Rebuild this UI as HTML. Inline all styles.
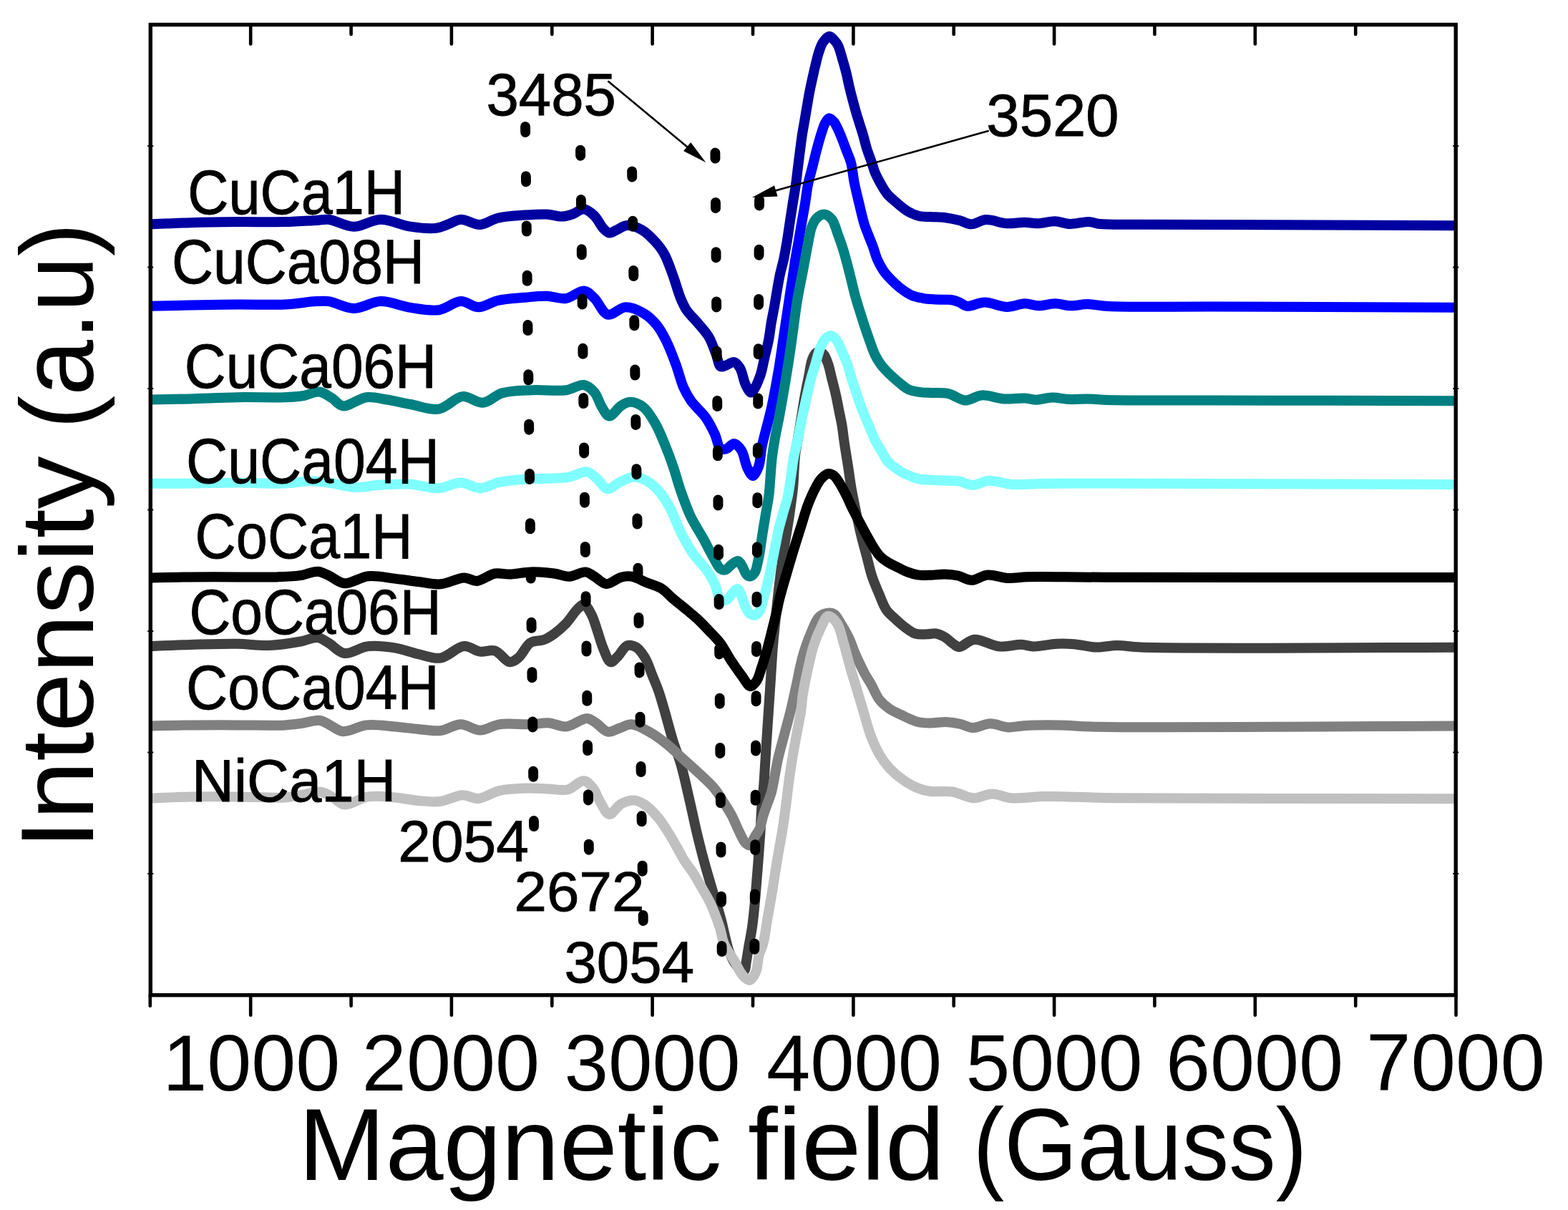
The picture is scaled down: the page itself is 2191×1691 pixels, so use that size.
<!DOCTYPE html>
<html><head><meta charset="utf-8"><title>EPR spectra - Magnetic field vs Intensity</title><style>html,body{margin:0;padding:0;background:#fff;overflow:hidden}svg{display:block}</style></head><body>
<svg width="2191" height="1691" viewBox="0 0 2191 1691">
<rect width="2191" height="1691" fill="#fff"/>
<defs><clipPath id="pc"><rect x="210.3" y="34.5" width="1823.9" height="1356.2"/></clipPath></defs>
<g clip-path="url(#pc)" fill="none" stroke-width="14" stroke-linejoin="round" stroke-linecap="butt">
<path d="M211.0,903.1 C220.2,902.7 246.8,901.4 265.9,900.9 C286.9,900.3 312.1,899.5 331.9,899.8 C348.0,900.1 361.2,902.5 375.8,902.0 C390.5,901.5 407.4,898.7 419.8,896.5 C429.1,894.9 437.0,890.1 444.0,891.0 C449.8,891.7 453.8,895.6 459.3,898.7 C466.1,902.6 472.9,911.8 481.3,913.0 C490.9,914.4 502.8,904.4 514.3,903.1 C526.2,901.7 539.6,903.4 551.6,905.3 C563.0,907.1 573.7,911.7 584.6,914.1 C595.0,916.4 605.2,921.1 615.4,919.6 C626.5,918.0 638.3,903.8 648.4,903.1 C656.5,902.5 663.4,909.6 670.8,910.6 C677.7,911.5 684.9,907.5 691.5,909.5 C698.9,911.7 706.1,924.5 712.3,925.1 C716.8,925.5 720.6,922.2 724.7,918.9 C730.3,914.3 734.8,902.2 741.3,898.1 C746.8,894.7 754.3,896.2 760.0,894.0 C765.3,892.0 769.7,889.1 774.5,885.7 C780.0,881.7 785.8,876.6 791.1,871.1 C796.9,865.0 802.8,854.8 807.7,850.4 C810.7,847.7 813.3,844.5 816.0,845.0 C819.6,845.6 823.5,853.3 826.4,858.7 C829.9,865.1 832.0,873.7 834.7,881.5 C837.5,889.6 839.7,898.8 843.0,906.4 C846.0,913.2 849.4,924.3 853.4,925.1 C856.5,925.7 860.3,920.1 863.8,916.8 C867.9,912.8 871.5,904.0 876.2,902.3 C880.0,900.9 884.9,902.2 888.7,904.3 C893.4,906.9 897.5,913.1 901.1,918.9 C905.3,925.8 908.3,935.9 911.5,943.8 C914.4,951.0 917.2,957.1 919.8,964.5 C922.8,972.8 925.1,981.4 928.1,991.5 C931.8,1004.2 936.0,1021.1 940.2,1034.7 C944.0,1046.9 948.2,1056.7 951.8,1069.4 C956.1,1084.6 960.2,1104.1 963.9,1120.0 C967.2,1134.2 969.7,1146.9 972.9,1160.3 C976.1,1173.8 979.4,1187.2 983.0,1200.6 C986.6,1214.1 990.9,1228.5 994.6,1241.0 C997.8,1251.8 1001.2,1262.5 1003.7,1271.2 C1005.6,1277.8 1006.9,1282.3 1008.5,1288.5 C1010.3,1295.6 1012.0,1304.3 1013.9,1311.7 C1015.6,1318.4 1016.8,1324.8 1019.3,1331.0 C1021.8,1337.3 1025.6,1344.8 1029.0,1349.0 C1031.3,1351.8 1033.8,1353.9 1036.0,1355.0 C1037.6,1355.8 1039.4,1356.7 1040.5,1356.0 C1042.1,1355.0 1041.7,1350.2 1042.4,1346.4 C1043.4,1341.1 1044.3,1334.3 1045.5,1327.1 C1047.0,1318.0 1049.4,1306.6 1050.9,1296.3 C1052.4,1286.0 1053.3,1276.1 1054.4,1265.4 C1055.5,1254.0 1056.5,1241.5 1057.4,1230.0 C1058.3,1219.1 1059.1,1209.0 1059.9,1198.0 C1060.8,1186.4 1061.7,1174.1 1062.5,1162.0 C1063.3,1149.8 1063.6,1136.1 1064.5,1125.0 C1065.2,1115.8 1066.2,1110.1 1067.0,1100.0 C1068.3,1084.4 1069.6,1059.1 1070.8,1040.5 C1071.9,1024.1 1072.9,1009.6 1073.9,994.2 C1074.9,978.8 1076.0,963.4 1077.0,948.0 C1078.0,932.6 1078.8,917.1 1080.1,901.7 C1081.4,886.3 1083.2,869.8 1084.7,855.4 C1086.0,842.8 1087.0,832.8 1088.5,820.0 C1090.3,804.8 1092.7,785.7 1095.0,770.0 C1097.1,755.9 1099.4,744.0 1101.5,730.0 C1103.8,714.7 1106.4,697.9 1108.0,682.0 C1109.6,666.3 1109.6,648.2 1111.2,635.0 C1112.4,625.3 1114.1,618.3 1115.5,609.8 C1117.0,601.1 1118.3,592.5 1119.8,583.2 C1121.5,573.0 1123.2,561.3 1125.1,551.1 C1126.8,541.8 1128.7,532.8 1130.4,524.4 C1131.9,516.9 1132.6,508.6 1134.7,503.0 C1136.2,499.1 1137.7,495.4 1140.0,493.5 C1141.7,492.1 1144.1,491.2 1146.0,491.5 C1148.0,491.9 1149.9,493.9 1151.5,496.0 C1153.8,498.9 1155.4,503.6 1157.1,508.4 C1159.2,514.5 1160.7,522.7 1162.5,529.8 C1164.3,536.9 1166.2,544.0 1167.8,551.1 C1169.4,558.2 1170.7,565.4 1172.1,572.5 C1173.5,579.6 1175.1,586.3 1176.4,593.8 C1177.8,602.1 1178.6,610.8 1180.0,620.0 C1181.5,630.1 1183.4,641.3 1185.1,652.0 C1186.7,662.7 1188.0,673.3 1189.9,684.0 C1191.8,694.7 1194.1,705.4 1196.3,716.1 C1198.5,726.8 1200.7,737.5 1203.3,748.2 C1205.9,758.9 1209.2,770.2 1211.8,780.2 C1214.1,789.0 1215.6,796.7 1218.3,804.9 C1221.1,813.3 1224.7,821.7 1228.2,829.8 C1231.6,837.7 1234.8,847.1 1239.0,853.1 C1242.2,857.7 1245.9,860.3 1249.8,863.9 C1253.9,867.8 1258.3,871.9 1263.1,875.5 C1268.0,879.2 1273.3,883.7 1278.9,885.5 C1284.2,887.2 1290.4,886.3 1295.5,886.3 C1300.0,886.3 1303.9,884.8 1308.0,885.5 C1312.2,886.2 1316.4,888.2 1320.4,890.5 C1324.7,893.0 1329.1,898.0 1332.9,900.4 C1335.7,902.2 1337.4,904.2 1340.6,904.2 C1345.8,904.2 1353.3,894.6 1361.3,893.8 C1371.3,892.8 1385.1,902.5 1396.5,903.5 C1407.0,904.5 1418.7,900.5 1427.3,900.8 C1433.6,901.0 1437.3,903.3 1443.7,903.5 C1452.8,903.7 1466.5,900.2 1476.7,899.7 C1485.4,899.3 1492.4,899.5 1500.9,900.2 C1510.5,901.0 1521.4,904.3 1531.6,904.6 C1541.6,904.9 1551.1,901.9 1561.3,901.9 C1572.0,901.9 1577.0,903.9 1594.3,904.6 C1657.4,907.2 1961.6,904.7 2035.0,904.7" stroke="#404040"/>
<path d="M211.0,313.4 C220.2,313.0 246.8,311.7 265.9,311.2 C286.9,310.6 309.9,310.3 331.9,310.1 C353.9,309.9 378.0,310.6 397.8,310.1 C413.9,309.7 430.5,308.5 441.8,307.9 C449.0,307.5 452.5,306.1 459.3,306.8 C469.1,307.8 482.6,316.6 494.5,316.7 C506.8,316.8 519.1,307.0 531.9,306.8 C545.4,306.6 560.2,314.7 573.6,316.7 C585.7,318.5 599.2,320.1 608.8,318.9 C615.8,318.1 620.6,315.4 626.4,313.4 C632.3,311.4 637.5,307.1 644.0,306.8 C651.9,306.4 662.1,314.4 670.8,314.0 C679.3,313.6 686.4,306.9 695.7,304.7 C706.7,302.1 721.1,301.5 733.0,300.6 C743.8,299.8 754.7,299.0 764.0,299.5 C771.7,299.9 778.7,302.8 785.0,302.6 C790.3,302.4 794.5,301.1 799.4,299.5 C804.8,297.8 810.7,291.9 816.0,292.3 C821.1,292.7 826.3,297.5 830.6,301.6 C835.4,306.2 839.0,315.0 843.0,319.2 C845.8,322.1 848.3,325.1 851.3,325.5 C854.5,325.9 858.0,322.9 861.7,321.3 C866.1,319.4 870.9,315.3 876.2,315.0 C882.4,314.6 890.6,317.7 897.0,321.3 C903.9,325.1 910.4,332.1 915.7,337.9 C920.5,343.2 924.3,347.8 928.0,354.5 C932.8,363.0 936.7,375.2 940.6,385.7 C944.4,396.0 947.4,408.2 951.0,416.8 C953.7,423.3 955.7,428.1 959.3,433.4 C963.2,439.2 968.9,444.1 973.8,450.0 C979.2,456.5 985.9,463.2 990.4,470.8 C994.9,478.4 997.8,488.2 1000.8,495.7 C1003.2,501.8 1003.8,510.6 1007.0,512.3 C1009.2,513.5 1012.4,511.1 1015.3,510.2 C1018.6,509.1 1022.6,505.4 1025.7,506.0 C1028.9,506.6 1031.6,510.5 1034.0,514.3 C1037.5,519.9 1038.9,531.9 1042.0,538.0 C1044.3,542.4 1047.1,548.4 1049.5,548.5 C1051.6,548.6 1053.8,543.8 1055.5,541.0 C1057.3,538.0 1058.7,534.2 1060.0,531.0 C1061.2,528.0 1062.1,526.0 1063.2,522.3 C1065.0,516.4 1066.8,506.5 1068.6,498.6 C1070.4,490.7 1072.6,482.8 1074.1,474.9 C1075.6,467.0 1076.4,459.1 1077.7,451.2 C1079.1,443.3 1080.8,435.4 1082.2,427.4 C1083.6,419.3 1085.0,410.6 1086.3,403.0 C1087.5,396.3 1088.4,390.5 1089.8,384.0 C1091.3,377.1 1093.4,370.2 1095.0,362.7 C1096.8,354.5 1098.3,345.3 1099.8,336.6 C1101.2,327.9 1102.4,319.2 1103.7,310.5 C1105.0,301.8 1106.3,293.1 1107.7,284.4 C1109.1,275.7 1110.7,267.0 1112.0,258.3 C1113.2,249.6 1114.1,240.9 1115.2,232.2 C1116.3,223.5 1117.4,214.1 1118.5,206.1 C1119.4,199.2 1120.1,193.3 1121.1,187.0 C1122.1,180.6 1123.3,174.3 1124.4,168.0 C1125.5,161.7 1126.5,155.3 1127.6,149.0 C1128.7,142.7 1129.7,136.3 1130.9,130.0 C1132.1,123.7 1133.5,117.3 1134.9,111.0 C1136.3,104.7 1137.7,98.3 1139.2,92.0 C1140.8,85.7 1142.2,78.8 1144.2,73.0 C1145.9,67.9 1147.3,62.8 1150.0,59.0 C1152.4,55.6 1156.1,50.8 1158.9,50.7 C1161.4,50.6 1164.0,54.3 1166.0,56.5 C1168.0,58.6 1169.5,60.4 1171.0,63.5 C1173.3,68.2 1175.2,76.1 1177.1,82.5 C1179.0,88.8 1180.8,95.1 1182.4,101.5 C1184.0,107.8 1185.1,114.2 1186.6,120.5 C1188.1,126.8 1189.7,133.2 1191.4,139.5 C1193.1,145.8 1194.9,152.6 1196.6,158.5 C1198.1,163.7 1199.6,168.0 1201.1,173.0 C1202.7,178.2 1204.5,183.4 1206.1,189.0 C1207.9,195.0 1209.3,201.7 1211.3,208.0 C1213.3,214.4 1216.0,221.1 1218.0,227.0 C1219.7,232.1 1220.8,236.5 1222.7,241.2 C1224.7,246.0 1227.2,250.7 1229.9,255.5 C1232.8,260.7 1235.9,266.5 1239.8,271.1 C1243.5,275.6 1248.1,279.1 1252.6,283.0 C1257.4,287.1 1262.4,291.7 1267.8,294.9 C1273.0,298.0 1278.9,300.7 1284.5,302.0 C1289.7,303.2 1294.5,302.7 1300.0,303.0 C1306.2,303.4 1313.1,303.2 1319.8,304.0 C1326.7,304.8 1334.1,306.4 1340.6,308.1 C1346.5,309.6 1351.4,313.3 1357.2,313.3 C1363.7,313.3 1370.4,307.5 1377.9,307.1 C1386.7,306.6 1397.6,311.8 1407.0,312.3 C1415.6,312.8 1424.3,310.7 1431.9,310.8 C1438.3,310.9 1443.1,312.3 1449.5,312.2 C1457.1,312.1 1466.5,309.1 1474.4,309.3 C1481.6,309.5 1487.6,312.8 1494.9,313.0 C1503.1,313.3 1513.5,309.7 1521.2,310.0 C1527.3,310.2 1530.3,312.3 1537.4,313.0 C1551.0,314.3 1574.7,313.5 1597.4,313.7 C1627.0,313.9 1662.6,313.9 1700.0,314.0 C1745.3,314.1 1797.4,314.3 1850.0,314.5 C1908.4,314.7 2004.2,315.1 2035.0,315.2" stroke="#0000A0"/>
<path d="M211.0,427.7 C220.2,427.5 246.8,427.0 265.9,426.6 C286.9,426.2 309.9,425.7 331.9,425.5 C353.9,425.3 378.1,426.5 397.8,425.5 C414.0,424.7 430.4,421.7 441.8,421.1 C448.9,420.7 452.5,420.2 459.3,421.1 C469.1,422.4 482.6,430.9 494.5,431.0 C506.8,431.1 519.1,421.4 531.9,421.1 C545.4,420.8 559.8,427.9 573.6,429.9 C586.9,431.9 601.0,435.0 613.2,433.2 C624.3,431.6 634.3,421.4 644.0,421.1 C652.6,420.9 660.3,429.3 668.7,429.3 C677.5,429.3 685.8,422.2 695.7,420.0 C707.0,417.4 721.1,416.9 733.0,415.8 C743.8,414.8 754.0,413.4 764.0,413.7 C773.3,414.0 782.3,418.2 791.0,417.0 C799.7,415.8 809.0,405.6 816.0,406.4 C821.7,407.0 825.7,412.3 830.6,416.8 C836.8,422.6 841.8,437.7 849.3,439.6 C856.5,441.4 865.9,429.6 874.2,429.3 C882.4,429.0 891.7,433.4 899.0,437.6 C906.1,441.7 912.5,447.9 917.7,454.2 C922.8,460.4 926.2,466.9 930.2,474.9 C935.3,484.9 940.5,498.7 944.7,510.2 C948.6,520.8 951.1,532.4 955.0,541.3 C958.2,548.5 961.0,553.6 965.5,560.0 C970.9,567.7 980.5,575.5 986.2,583.6 C991.4,591.0 995.1,598.9 998.7,606.4 C1002.0,613.4 1003.1,624.6 1007.0,627.2 C1009.4,628.8 1012.5,628.1 1015.3,627.2 C1018.7,626.1 1022.3,619.7 1025.7,619.9 C1029.2,620.1 1033.2,624.9 1036.0,629.2 C1039.9,635.2 1041.1,647.8 1044.4,654.2 C1046.7,658.8 1049.5,665.1 1052.0,665.0 C1054.7,664.9 1058.0,657.4 1060.0,652.0 C1062.8,644.6 1062.5,634.5 1064.7,623.6 C1067.8,608.5 1074.1,587.7 1078.0,569.8 C1081.8,552.1 1085.0,534.6 1088.0,516.9 C1091.0,499.2 1093.3,481.3 1096.0,463.5 C1098.7,445.7 1101.9,423.9 1104.0,410.1 C1105.3,401.4 1106.2,396.3 1107.4,388.8 C1108.7,380.5 1109.9,371.4 1111.3,362.7 C1112.7,354.0 1114.4,345.3 1115.9,336.6 C1117.4,327.9 1118.9,319.2 1120.4,310.5 C1121.9,301.8 1123.6,293.1 1125.0,284.4 C1126.4,275.7 1127.2,267.0 1128.9,258.3 C1130.7,249.6 1133.3,240.9 1135.5,232.2 C1137.7,223.5 1139.7,214.4 1142.0,206.1 C1144.1,198.4 1146.4,190.2 1148.5,184.0 C1150.0,179.4 1151.1,175.3 1153.0,172.0 C1154.6,169.3 1156.5,165.5 1158.6,165.3 C1160.6,165.1 1163.1,167.9 1165.0,170.0 C1167.2,172.4 1168.6,175.8 1170.4,179.4 C1172.6,183.9 1174.9,189.7 1177.0,195.0 C1179.1,200.3 1181.0,205.7 1183.0,211.0 C1185.0,216.3 1187.3,220.8 1189.0,227.0 C1191.2,235.1 1191.9,246.0 1193.8,255.5 C1195.7,265.0 1198.1,274.5 1200.4,284.0 C1202.7,293.5 1204.9,304.2 1207.5,312.5 C1209.5,319.1 1211.9,324.4 1214.0,330.0 C1216.0,335.2 1218.0,339.7 1219.9,344.9 C1222.0,350.5 1223.4,357.1 1225.9,362.7 C1228.3,368.2 1231.3,373.7 1234.5,378.4 C1237.4,382.7 1240.5,386.0 1244.1,389.8 C1248.1,394.0 1252.7,398.4 1257.6,402.2 C1262.6,406.0 1268.1,410.1 1273.6,412.6 C1278.8,414.9 1284.4,415.8 1289.6,416.8 C1294.5,417.7 1299.2,418.0 1304.0,418.3 C1308.7,418.6 1313.6,418.7 1318.0,418.8 C1321.9,418.9 1325.4,418.4 1329.0,419.0 C1332.7,419.6 1336.4,420.8 1340.0,422.2 C1343.7,423.7 1346.5,427.2 1351.0,427.8 C1357.5,428.7 1367.1,422.6 1375.9,422.6 C1385.7,422.6 1397.2,428.8 1407.0,428.9 C1415.8,429.0 1424.2,424.4 1431.9,424.3 C1438.7,424.2 1444.2,427.2 1450.9,427.3 C1458.3,427.4 1466.7,424.3 1474.4,424.3 C1481.8,424.3 1488.9,427.1 1496.3,427.3 C1504.0,427.5 1511.5,425.1 1519.8,425.1 C1529.0,425.1 1535.5,427.3 1549.1,428.0 C1579.8,429.6 1639.8,428.3 1700.0,428.5 C1789.7,428.8 1979.2,429.5 2035.0,429.7" stroke="#0000FF"/>
<path d="M211.0,558.5 C220.2,558.3 246.8,557.9 265.9,557.4 C286.9,556.8 309.9,555.6 331.9,555.2 C353.9,554.8 380.8,555.9 397.8,555.2 C408.6,554.8 415.9,554.4 424.2,553.0 C431.9,551.7 439.4,546.7 446.2,547.5 C452.5,548.2 458.2,553.0 463.7,556.3 C469.1,559.6 472.7,566.4 479.1,567.3 C487.8,568.5 501.3,556.5 512.1,555.2 C521.8,554.0 530.9,557.0 540.7,558.5 C551.3,560.2 562.1,562.9 573.6,565.0 C586.2,567.3 600.9,573.6 613.2,571.6 C625.1,569.7 635.4,555.1 646.2,554.1 C655.9,553.2 665.6,563.6 674.9,562.8 C684.2,562.0 691.6,552.3 701.9,549.3 C714.0,545.8 729.1,545.9 743.4,545.2 C758.7,544.4 777.9,547.1 791.1,545.2 C800.9,543.8 809.0,536.8 816.0,538.0 C821.8,539.0 826.6,543.6 830.6,548.3 C835.2,553.6 837.2,563.1 841.0,569.0 C844.2,573.9 847.3,581.2 851.3,581.5 C856.0,581.9 862.5,570.4 867.9,567.0 C872.1,564.4 875.8,561.9 880.4,561.8 C886.0,561.7 893.5,564.8 899.0,569.0 C905.6,574.0 910.9,583.7 915.7,591.9 C920.6,600.3 924.1,609.4 928.1,618.9 C932.4,629.3 936.8,641.0 940.6,652.1 C944.4,663.1 947.0,674.0 951.0,685.3 C955.3,697.4 960.0,711.1 965.5,722.6 C970.5,733.1 976.8,742.1 982.1,751.7 C987.2,760.8 992.1,770.9 996.6,778.7 C1000.1,784.8 1003.0,792.2 1006.6,794.8 C1008.8,796.4 1011.0,797.0 1013.3,796.5 C1016.5,795.8 1019.9,790.4 1023.2,788.2 C1026.0,786.4 1029.2,783.5 1031.5,784.0 C1033.9,784.5 1035.5,788.6 1037.3,791.5 C1039.4,794.9 1040.9,800.8 1043.2,803.1 C1044.7,804.6 1046.4,805.8 1048.1,805.6 C1050.2,805.3 1053.1,802.5 1054.8,799.8 C1057.0,796.3 1057.8,790.3 1058.9,785.7 C1059.9,781.4 1060.6,777.7 1061.4,773.2 C1062.3,768.1 1063.1,762.1 1063.9,756.6 C1064.7,751.1 1065.4,746.0 1066.4,740.0 C1067.6,732.7 1069.1,724.0 1070.4,716.0 C1071.7,708.0 1073.2,701.7 1074.4,692.2 C1076.1,678.2 1077.0,654.7 1078.7,640.0 C1080.0,629.2 1081.3,621.6 1083.0,612.0 C1084.8,601.7 1087.1,591.9 1089.3,580.0 C1092.0,565.2 1095.3,546.2 1098.0,530.0 C1100.5,514.6 1102.6,501.4 1105.0,485.0 C1107.9,465.3 1110.8,439.6 1114.0,420.0 C1116.7,403.6 1120.0,388.9 1122.6,375.0 C1124.9,363.0 1126.8,351.7 1128.9,341.3 C1130.7,332.4 1131.8,323.1 1134.5,316.4 C1136.5,311.4 1138.8,306.9 1142.0,304.0 C1144.7,301.5 1148.4,299.2 1151.6,299.4 C1155.1,299.6 1159.3,302.8 1162.3,306.4 C1166.3,311.2 1168.2,320.6 1170.9,327.7 C1173.6,334.8 1176.1,341.9 1178.3,349.1 C1180.5,356.2 1182.3,363.3 1184.2,370.4 C1186.1,377.5 1187.8,384.7 1189.6,391.8 C1191.4,398.9 1193.0,406.1 1194.9,413.2 C1196.9,420.3 1199.1,427.4 1201.3,434.5 C1203.5,441.6 1205.9,449.1 1208.2,455.9 C1210.2,462.0 1212.0,467.2 1214.2,473.4 C1216.7,480.4 1219.3,489.0 1222.5,495.6 C1225.3,501.3 1228.2,506.0 1231.8,510.7 C1235.5,515.5 1240.0,519.9 1244.3,524.1 C1248.6,528.2 1253.1,532.2 1257.6,535.7 C1261.8,539.0 1265.4,542.5 1270.1,544.6 C1274.9,546.7 1280.8,547.4 1286.1,548.1 C1291.2,548.8 1295.5,548.7 1301.2,549.0 C1308.4,549.4 1318.0,548.5 1326.0,550.3 C1333.9,552.1 1341.2,559.3 1348.9,559.6 C1356.5,559.9 1363.4,553.0 1371.7,552.4 C1381.1,551.7 1392.4,556.7 1402.6,557.4 C1412.5,558.1 1423.6,556.1 1431.9,556.6 C1438.1,556.9 1442.2,558.8 1448.0,558.8 C1454.8,558.8 1462.4,555.7 1470.0,555.5 C1478.0,555.3 1486.6,557.8 1494.9,558.1 C1503.2,558.4 1511.8,557.3 1519.8,557.4 C1527.4,557.5 1532.9,558.4 1541.8,558.8 C1555.3,559.3 1572.8,559.5 1593.0,559.6 C1622.2,559.8 1654.4,559.5 1700.0,559.5 C1780.6,559.5 1979.2,560.1 2035.0,560.2" stroke="#008080"/>
<path d="M211.0,675.6 C220.1,675.6 246.8,675.8 265.9,675.6 C286.9,675.4 309.9,674.5 331.9,674.5 C353.9,674.5 379.3,676.3 397.8,675.6 C411.4,675.1 422.1,672.4 433.0,672.3 C442.4,672.3 449.8,673.3 459.3,674.5 C470.7,676.0 484.6,680.6 496.7,681.1 C508.0,681.5 517.9,678.5 529.7,677.8 C543.3,677.0 559.4,675.9 573.6,676.7 C587.2,677.5 600.9,682.9 613.2,682.2 C624.2,681.6 634.1,674.3 644.0,674.5 C653.3,674.7 661.9,682.3 670.8,682.2 C679.8,682.1 688.0,676.0 697.7,673.9 C708.6,671.6 721.6,670.6 733.0,669.7 C743.7,668.9 753.8,669.2 764.2,668.7 C774.6,668.2 785.6,668.3 795.3,666.6 C804.2,665.0 813.5,658.3 820.2,659.3 C825.3,660.1 828.3,664.2 832.6,667.6 C837.9,671.8 843.5,682.5 849.3,683.2 C854.6,683.8 860.1,676.6 865.9,673.9 C871.8,671.1 878.6,667.1 884.5,666.6 C889.6,666.2 894.0,667.4 899.0,669.7 C905.6,672.7 913.7,678.9 919.8,685.3 C926.3,692.2 931.4,701.1 936.4,710.2 C941.9,720.3 945.7,732.8 951.0,743.4 C956.1,753.6 961.5,763.6 967.6,772.5 C973.3,780.8 980.8,787.7 986.2,795.3 C991.1,802.2 995.2,808.7 998.7,816.0 C1002.2,823.3 1002.9,836.4 1007.0,838.9 C1009.4,840.4 1013.0,839.4 1015.7,838.0 C1019.1,836.2 1022.0,829.8 1024.9,827.2 C1026.9,825.3 1029.0,822.6 1030.7,823.0 C1033.0,823.5 1034.8,830.0 1036.5,833.9 C1038.4,838.2 1039.4,843.8 1041.5,848.0 C1043.4,851.7 1045.4,856.0 1048.1,857.9 C1050.3,859.4 1053.4,860.3 1055.6,859.6 C1058.2,858.8 1060.6,855.2 1062.3,852.1 C1064.4,848.3 1065.0,842.8 1066.4,838.0 C1067.8,833.1 1069.2,828.4 1070.6,823.0 C1072.2,816.7 1073.9,809.5 1075.5,802.3 C1077.2,794.4 1078.9,785.3 1080.5,777.4 C1082.0,770.2 1083.4,763.1 1084.7,756.6 C1085.9,750.8 1086.6,746.0 1088.0,740.0 C1089.7,732.7 1092.3,724.0 1094.5,716.0 C1096.7,708.0 1099.3,700.8 1101.1,692.2 C1103.2,682.3 1104.6,669.5 1106.0,660.0 C1107.1,652.5 1107.6,647.0 1108.9,640.0 C1110.4,632.1 1112.9,623.2 1114.6,615.2 C1116.2,607.8 1117.3,600.9 1118.7,593.8 C1120.1,586.7 1121.7,579.6 1123.2,572.5 C1124.8,565.4 1126.3,558.2 1128.0,551.1 C1129.6,544.0 1131.2,536.9 1133.1,529.8 C1135.0,522.6 1137.4,515.5 1139.5,508.4 C1141.6,501.3 1143.5,493.0 1145.9,487.0 C1147.8,482.3 1149.3,478.0 1152.0,475.0 C1154.5,472.3 1158.3,469.0 1161.1,469.1 C1163.6,469.2 1165.9,471.7 1168.0,474.0 C1170.7,477.1 1172.5,482.1 1174.8,487.0 C1177.7,493.2 1181.2,501.2 1183.8,508.4 C1186.3,515.5 1188.0,522.7 1190.2,529.8 C1192.4,536.9 1194.8,544.0 1197.2,551.1 C1199.6,558.2 1202.0,565.4 1204.7,572.5 C1207.5,579.7 1210.7,586.7 1213.7,593.8 C1216.7,600.9 1219.5,608.7 1222.8,615.2 C1225.7,621.0 1229.0,625.9 1232.0,631.0 C1234.8,635.7 1236.9,640.8 1240.1,644.6 C1243.0,648.0 1246.5,650.4 1250.0,653.0 C1253.6,655.7 1256.9,658.2 1261.5,660.6 C1267.4,663.7 1276.0,667.4 1282.8,669.1 C1288.7,670.5 1294.1,670.4 1300.0,670.8 C1306.4,671.2 1313.1,671.2 1319.8,671.5 C1326.6,671.8 1333.9,671.6 1340.6,672.7 C1347.1,673.8 1352.8,677.9 1359.3,677.9 C1366.5,677.9 1373.9,672.1 1382.1,671.7 C1391.6,671.2 1402.0,676.1 1413.2,676.9 C1426.0,677.8 1439.7,676.1 1454.7,675.9 C1472.5,675.6 1483.9,675.6 1513.0,675.6 C1600.2,675.5 1948.0,676.8 2035.0,677.0" stroke="#80FFFF"/>
<path d="M211.0,807.5 C220.2,807.3 246.8,806.6 265.9,806.4 C286.9,806.2 310.9,806.4 331.9,806.4 C351.0,806.4 370.8,806.9 386.8,806.4 C399.2,806.0 409.7,805.7 419.8,804.2 C428.5,802.9 436.9,798.3 444.0,798.7 C449.7,799.0 453.8,801.9 459.3,804.2 C466.0,807.1 473.1,814.5 481.3,815.2 C491.0,816.0 502.8,806.5 514.3,805.3 C526.2,804.1 539.6,807.3 551.6,808.6 C563.0,809.9 573.8,811.7 584.6,813.0 C595.0,814.3 605.0,817.1 615.4,816.3 C626.3,815.5 639.0,807.6 648.4,807.5 C655.4,807.4 660.1,812.4 666.6,811.9 C674.3,811.3 683.4,802.9 691.5,801.5 C698.6,800.3 704.8,802.8 712.3,802.6 C721.2,802.3 731.3,799.6 741.3,799.4 C752.0,799.2 764.8,800.2 774.5,801.5 C782.3,802.5 788.2,805.9 795.3,805.7 C802.8,805.4 811.7,798.8 818.1,799.4 C823.0,799.9 826.2,803.2 830.6,805.7 C835.8,808.6 841.2,815.6 847.2,816.0 C853.6,816.4 861.5,808.3 867.9,806.7 C873.1,805.4 877.3,804.9 882.5,805.7 C888.9,806.7 896.3,811.2 903.2,814.0 C910.1,816.8 917.7,818.5 924.0,822.3 C930.2,826.1 934.8,831.9 940.6,836.8 C946.8,842.0 953.9,847.6 960.0,852.7 C965.5,857.3 970.4,861.1 975.4,865.8 C980.7,870.7 985.7,876.2 990.8,881.6 C996.0,887.1 1001.4,892.2 1006.3,898.6 C1011.8,905.8 1016.5,915.4 1021.7,923.3 C1026.7,930.9 1032.2,938.8 1037.1,945.2 C1041.1,950.5 1044.8,958.9 1048.5,959.2 C1051.4,959.5 1054.7,955.2 1057.1,951.8 C1060.3,947.2 1062.0,939.2 1064.2,932.8 C1066.4,926.5 1068.2,920.2 1070.1,913.9 C1071.9,907.6 1073.6,901.2 1075.3,894.9 C1076.9,888.6 1078.4,882.2 1080.0,875.9 C1081.6,869.6 1083.3,863.2 1084.8,856.9 C1086.3,850.6 1087.4,844.3 1088.9,838.0 C1090.5,831.7 1092.2,825.6 1094.1,819.0 C1096.1,811.9 1098.1,805.1 1100.5,797.0 C1103.4,787.1 1107.2,774.3 1110.4,764.0 C1113.2,754.8 1115.7,747.1 1118.6,737.9 C1121.9,727.6 1125.1,715.4 1129.0,705.2 C1132.6,695.9 1137.2,685.8 1140.9,679.1 C1143.4,674.7 1145.1,671.4 1148.0,668.5 C1150.7,665.8 1154.4,662.4 1157.5,662.0 C1160.1,661.6 1162.8,663.0 1165.0,664.5 C1167.3,666.1 1168.6,668.4 1170.7,671.3 C1173.9,675.9 1178.0,683.4 1181.4,690.0 C1185.1,697.1 1188.4,705.2 1192.0,712.4 C1195.5,719.4 1199.2,726.3 1202.7,732.7 C1205.9,738.6 1208.9,744.3 1211.9,749.6 C1214.6,754.4 1216.7,758.7 1219.6,763.2 C1222.6,768.0 1225.9,773.5 1229.7,777.4 C1233.2,781.0 1237.3,783.7 1241.5,786.3 C1245.6,788.9 1250.2,790.7 1254.6,792.9 C1259.1,795.1 1263.6,797.7 1268.2,799.4 C1272.7,801.1 1277.0,802.5 1281.9,803.3 C1287.5,804.2 1293.8,803.9 1300.0,803.8 C1306.5,803.7 1313.3,802.4 1319.8,802.5 C1326.1,802.6 1332.3,803.1 1338.5,804.5 C1344.8,805.9 1350.6,810.8 1357.2,810.8 C1364.4,810.9 1372.0,804.1 1380.0,803.5 C1388.7,802.8 1398.3,807.4 1407.5,807.9 C1416.6,808.4 1424.3,806.6 1435.0,806.3 C1450.2,805.9 1471.7,806.2 1490.0,806.3 C1508.3,806.4 1517.5,806.7 1545.0,806.8 C1627.0,807.2 1953.3,807.0 2035.0,807.1" stroke="#000000"/>
<path d="M211.0,1014.5 C220.2,1014.3 246.8,1013.6 265.9,1013.4 C286.9,1013.2 309.9,1013.4 331.9,1013.4 C353.9,1013.4 381.7,1014.2 397.8,1013.4 C407.1,1012.9 412.2,1012.2 419.8,1011.2 C428.2,1010.1 439.0,1006.0 446.2,1006.8 C451.4,1007.4 454.5,1010.1 459.3,1012.3 C465.3,1015.0 471.5,1021.4 479.1,1022.2 C488.5,1023.2 500.5,1014.6 512.1,1013.4 C524.6,1012.1 539.0,1014.6 551.6,1015.6 C563.1,1016.5 573.8,1018.0 584.6,1018.9 C595.0,1019.8 605.4,1022.2 615.4,1021.1 C625.2,1020.0 634.6,1012.3 644.0,1012.3 C653.1,1012.3 661.9,1020.6 670.8,1020.6 C679.8,1020.6 687.4,1013.9 697.7,1012.3 C710.8,1010.3 730.8,1012.9 743.4,1012.3 C752.3,1011.9 758.5,1009.8 766.2,1010.2 C774.4,1010.7 782.6,1016.1 791.1,1015.4 C800.5,1014.6 812.6,1003.7 820.2,1004.0 C825.3,1004.2 828.3,1007.5 832.6,1010.2 C837.9,1013.5 843.5,1021.6 849.3,1022.6 C854.6,1023.5 860.4,1019.2 865.9,1017.5 C871.4,1015.8 876.4,1012.0 882.5,1012.3 C890.1,1012.7 899.8,1018.6 907.8,1023.1 C915.9,1027.6 923.5,1033.3 931.0,1039.3 C938.9,1045.6 946.2,1053.1 954.1,1060.2 C962.4,1067.7 971.9,1075.9 979.6,1083.3 C986.3,1089.7 992.7,1095.2 998.1,1101.8 C1003.4,1108.3 1007.8,1116.0 1012.0,1122.6 C1015.8,1128.6 1019.2,1133.6 1022.5,1139.8 C1026.1,1146.5 1029.1,1154.7 1032.5,1161.4 C1035.5,1167.4 1038.4,1174.7 1041.6,1178.0 C1043.5,1179.9 1045.6,1181.9 1047.4,1181.4 C1050.1,1180.7 1052.5,1172.9 1054.9,1168.9 C1057.2,1165.2 1059.7,1162.3 1061.5,1158.1 C1063.7,1152.9 1064.7,1145.7 1066.5,1139.8 C1068.3,1134.1 1070.4,1128.7 1072.3,1123.2 C1074.2,1117.7 1076.6,1112.2 1078.1,1106.6 C1079.6,1101.1 1080.2,1096.4 1081.5,1090.0 C1083.2,1081.4 1085.0,1070.0 1087.3,1059.7 C1089.8,1048.8 1093.1,1037.5 1096.0,1026.4 C1098.9,1015.3 1102.1,1004.3 1104.8,993.2 C1107.5,982.2 1109.6,971.8 1112.2,960.0 C1115.2,946.6 1118.0,930.1 1121.7,917.1 C1124.9,905.9 1128.4,895.8 1132.5,886.3 C1136.2,877.6 1139.6,866.9 1144.9,862.0 C1148.8,858.4 1154.8,856.7 1158.7,856.5 C1161.5,856.3 1163.8,857.0 1166.0,858.5 C1168.9,860.5 1170.9,864.8 1173.6,869.1 C1177.4,875.0 1182.4,883.6 1185.9,890.9 C1189.2,897.7 1191.4,905.1 1194.1,911.4 C1196.4,916.8 1198.5,921.3 1200.9,926.4 C1203.5,931.8 1206.3,937.6 1209.1,942.8 C1211.7,947.6 1214.4,951.3 1217.3,956.4 C1220.9,962.8 1224.4,972.3 1229.1,978.2 C1233.1,983.3 1237.7,987.0 1242.8,990.5 C1248.0,994.1 1253.9,996.5 1260.0,999.4 C1266.6,1002.5 1274.2,1006.6 1281.0,1008.4 C1287.0,1010.0 1292.3,1010.3 1298.6,1010.5 C1305.8,1010.7 1314.5,1008.8 1322.0,1009.1 C1329.1,1009.4 1336.2,1010.5 1342.6,1012.0 C1348.4,1013.3 1352.7,1016.9 1358.7,1017.1 C1366.1,1017.4 1375.3,1011.4 1383.6,1011.3 C1391.9,1011.2 1400.4,1016.0 1408.5,1016.4 C1416.0,1016.8 1421.6,1014.7 1430.5,1014.2 C1444.0,1013.4 1464.7,1013.2 1481.8,1013.5 C1498.9,1013.8 1507.1,1015.2 1533.0,1015.7 C1614.0,1017.4 1951.3,1014.8 2035.0,1014.6" stroke="#808080"/>
<path d="M211.0,1115.6 C220.2,1115.2 246.8,1113.8 265.9,1113.4 C286.9,1113.0 309.9,1113.2 331.9,1113.4 C353.9,1113.6 381.7,1115.6 397.8,1114.5 C407.1,1113.9 412.0,1112.4 419.8,1111.2 C428.7,1109.8 440.5,1105.8 448.4,1106.8 C454.4,1107.6 458.5,1110.7 463.7,1113.4 C469.5,1116.4 474.3,1123.6 481.3,1124.4 C490.4,1125.5 502.8,1115.1 514.3,1113.4 C526.2,1111.6 539.6,1113.5 551.6,1114.5 C563.0,1115.4 573.8,1118.0 584.6,1118.9 C595.0,1119.8 605.2,1121.2 615.4,1120.0 C625.8,1118.7 636.7,1111.5 646.2,1111.2 C654.3,1110.9 660.8,1116.6 668.7,1116.0 C677.9,1115.3 687.1,1107.4 697.7,1105.0 C709.7,1102.3 725.0,1101.8 737.2,1101.5 C747.6,1101.2 756.7,1102.2 766.2,1102.5 C775.4,1102.8 784.8,1105.4 793.2,1103.5 C801.4,1101.6 809.7,1090.7 816.0,1091.3 C821.0,1091.8 824.9,1096.9 828.5,1101.3 C832.8,1106.4 835.0,1114.8 838.9,1121.0 C842.7,1127.0 846.5,1137.5 851.3,1138.0 C856.2,1138.5 861.8,1126.6 867.9,1123.3 C873.5,1120.3 880.4,1118.2 886.0,1118.5 C891.0,1118.8 895.2,1120.9 900.0,1124.0 C906.5,1128.1 914.1,1136.2 920.0,1143.2 C925.8,1150.1 930.6,1158.2 935.1,1165.4 C939.2,1171.9 942.6,1178.2 946.2,1184.5 C949.7,1190.6 952.6,1196.8 956.3,1202.7 C960.0,1208.6 964.7,1214.0 968.4,1219.8 C972.0,1225.4 974.9,1230.7 978.5,1236.9 C982.7,1244.2 988.8,1254.4 992.1,1261.1 C994.4,1265.7 995.4,1268.4 997.3,1273.1 C999.9,1279.5 1003.3,1288.5 1005.8,1296.3 C1008.2,1304.0 1008.8,1311.9 1012.0,1319.4 C1015.4,1327.3 1021.9,1335.5 1025.9,1342.5 C1029.1,1348.1 1031.6,1353.8 1034.3,1358.0 C1036.3,1361.0 1037.7,1363.5 1040.0,1365.5 C1042.2,1367.4 1045.1,1370.4 1047.5,1369.9 C1050.6,1369.3 1054.2,1362.9 1056.3,1358.0 C1059.0,1351.8 1058.7,1341.7 1060.6,1334.8 C1062.2,1329.0 1064.6,1325.4 1066.3,1319.0 C1068.8,1309.6 1070.4,1295.3 1072.5,1283.4 C1074.6,1271.5 1077.1,1257.6 1078.7,1247.8 C1079.9,1240.9 1080.4,1237.1 1081.5,1230.0 C1083.2,1219.3 1085.9,1202.5 1088.1,1189.7 C1090.1,1178.1 1092.2,1167.5 1093.9,1156.4 C1095.6,1145.3 1097.0,1134.3 1098.5,1123.2 C1099.9,1112.1 1101.1,1100.8 1102.6,1090.0 C1104.0,1079.7 1105.5,1070.0 1107.2,1059.7 C1109.0,1048.9 1111.1,1037.5 1113.1,1026.4 C1115.1,1015.3 1117.8,1003.2 1119.3,993.2 C1120.5,985.1 1120.4,979.5 1121.7,971.1 C1123.4,960.0 1126.7,944.6 1129.4,932.5 C1131.8,921.6 1134.0,911.1 1137.1,901.7 C1139.8,893.3 1142.9,885.6 1146.4,878.6 C1149.6,872.2 1153.0,861.7 1157.2,861.0 C1160.9,860.4 1166.2,866.0 1169.5,870.8 C1174.0,877.3 1175.8,888.8 1178.8,898.6 C1182.0,909.3 1184.8,921.5 1188.0,932.5 C1191.0,943.1 1194.2,953.1 1197.3,963.4 C1200.4,973.7 1203.4,983.7 1206.5,994.2 C1209.8,1005.1 1212.5,1017.0 1216.5,1027.5 C1220.3,1037.4 1224.6,1047.3 1229.5,1055.5 C1233.7,1062.5 1238.0,1068.3 1243.3,1074.0 C1248.8,1079.9 1255.5,1085.5 1262.0,1090.0 C1268.1,1094.3 1274.6,1098.0 1281.0,1100.7 C1286.8,1103.2 1291.8,1104.8 1298.6,1105.8 C1307.6,1107.2 1320.4,1104.9 1330.8,1106.5 C1340.9,1108.1 1350.5,1114.9 1360.1,1115.3 C1369.1,1115.6 1377.7,1109.5 1386.5,1109.5 C1395.3,1109.5 1402.8,1114.4 1412.9,1115.3 C1426.2,1116.4 1444.4,1113.3 1459.8,1113.1 C1474.7,1112.9 1488.2,1113.5 1503.7,1113.8 C1521.3,1114.2 1532.1,1114.9 1560.0,1115.3 C1641.1,1116.5 1955.8,1116.0 2035.0,1116.2" stroke="#C0C0C0"/>
</g>
<g stroke="#000" stroke-width="13.9" stroke-linecap="round" fill="none">
<path d="M734.05,176.85 L746.05,1155.05" stroke-dasharray="8.10 61.20"/>
<path d="M811.05,209.65 L822.85,1187.75" stroke-dasharray="8.10 61.19"/>
<path d="M883.14,239.35 L898.76,1287.05" stroke-dasharray="8.10 61.21"/>
<path d="M999.37,213.55 L1008.63,1330.05" stroke-dasharray="8.10 61.18"/>
<path d="M1061.03,279.35 L1054.27,1326.85" stroke-dasharray="8.10 61.19"/>
</g>
<rect x="210.3" y="34.5" width="1823.9" height="1356.2" fill="none" stroke="#000" stroke-width="5.4"/>
<path d="M209.8,1390.7V1405.7 M350.2,1390.7V1418.7 M350.2,34.5V61.5 M490.6,1390.7V1405.7 M490.6,34.5V48.0 M630.9,1390.7V1418.7 M630.9,34.5V61.5 M771.3,1390.7V1405.7 M771.3,34.5V48.0 M911.6,1390.7V1418.7 M911.6,34.5V61.5 M1052.0,1390.7V1405.7 M1052.0,34.5V48.0 M1192.4,1390.7V1418.7 M1192.4,34.5V61.5 M1332.7,1390.7V1405.7 M1332.7,34.5V48.0 M1473.1,1390.7V1418.7 M1473.1,34.5V61.5 M1613.4,1390.7V1405.7 M1613.4,34.5V48.0 M1753.8,1390.7V1418.7 M1753.8,34.5V61.5 M1894.2,1390.7V1405.7 M1894.2,34.5V48.0 M2034.5,1390.7V1418.7" stroke="#000" stroke-width="4.6" stroke-linecap="round" fill="none"/>
<path d="M206.3,204.0H214.3 M2030.2,204.0H2038.2 M206.3,373.5H214.3 M2030.2,373.5H2038.2 M206.3,543.0H214.3 M2030.2,543.0H2038.2 M206.3,712.5H214.3 M2030.2,712.5H2038.2 M206.3,882.0H214.3 M2030.2,882.0H2038.2 M206.3,1051.5H214.3 M2030.2,1051.5H2038.2 M206.3,1221.0H214.3 M2030.2,1221.0H2038.2" stroke="#000" stroke-width="2" stroke-linecap="butt" fill="none"/>
<g stroke="#000" stroke-width="2.6" fill="none"><path d="M849.4,113.2 L975,217.5"/><path d="M1381.7,182.7 L1062,272.5"/></g>
<g fill="#000"><path d="M986.3,227 L955.1,211 L965.2,198.9 Z"/><path d="M1050.8,275.9 L1082,259.3 L1086.6,274.6 Z"/></g>
<g font-family="'Liberation Sans', Arial, sans-serif" fill="#000">
<text x="262.32" y="299.33" font-size="86.30" textLength="303.69" lengthAdjust="spacingAndGlyphs" stroke="#000" stroke-width="0.9">CuCa1H</text>
<text x="239.92" y="395.53" font-size="86.30" textLength="353.09" lengthAdjust="spacingAndGlyphs" stroke="#000" stroke-width="0.9">CuCa08H</text>
<text x="257.85" y="541.72" font-size="87.88" textLength="352.19" lengthAdjust="spacingAndGlyphs" stroke="#000" stroke-width="0.9">CuCa06H</text>
<text x="260.01" y="675.32" font-size="88.46" textLength="353.84" lengthAdjust="spacingAndGlyphs" stroke="#000" stroke-width="0.9">CuCa04H</text>
<text x="272.61" y="779.72" font-size="88.46" textLength="303.84" lengthAdjust="spacingAndGlyphs" stroke="#000" stroke-width="0.9">CoCa1H</text>
<text x="264.41" y="885.72" font-size="88.46" textLength="352.24" lengthAdjust="spacingAndGlyphs" stroke="#000" stroke-width="0.9">CoCa06H</text>
<text x="260.12" y="990.53" font-size="86.30" textLength="353.69" lengthAdjust="spacingAndGlyphs" stroke="#000" stroke-width="0.9">CoCa04H</text>
<text x="268.12" y="1119.73" font-size="83.21" textLength="285.29" lengthAdjust="spacingAndGlyphs" stroke="#000" stroke-width="0.9">NiCa1H</text>
<text x="679.43" y="160.78" font-size="82.53" textLength="181.45" lengthAdjust="spacingAndGlyphs" stroke="#000" stroke-width="0.9">3485</text>
<text x="1378.35" y="189.76" font-size="83.79" textLength="185.16" lengthAdjust="spacingAndGlyphs" stroke="#000" stroke-width="0.9">3520</text>
<text x="556.28" y="1203.98" font-size="81.23" textLength="182.58" lengthAdjust="spacingAndGlyphs" stroke="#000" stroke-width="0.9">2054</text>
<text x="718.57" y="1273.00" font-size="78.65" textLength="181.84" lengthAdjust="spacingAndGlyphs" stroke="#000" stroke-width="0.9">2672</text>
<text x="788.48" y="1372.98" font-size="81.09" textLength="181.58" lengthAdjust="spacingAndGlyphs" stroke="#000" stroke-width="0.9">3054</text>
<text x="227.14" y="1523.88" font-size="111.93" textLength="248.23" lengthAdjust="spacingAndGlyphs">1000</text>
<text x="505.86" y="1523.88" font-size="111.93" textLength="248.23" lengthAdjust="spacingAndGlyphs">2000</text>
<text x="788.38" y="1523.88" font-size="111.93" textLength="246.23" lengthAdjust="spacingAndGlyphs">3000</text>
<text x="1070.90" y="1523.88" font-size="111.93" textLength="245.23" lengthAdjust="spacingAndGlyphs">4000</text>
<text x="1349.42" y="1523.88" font-size="111.93" textLength="247.23" lengthAdjust="spacingAndGlyphs">5000</text>
<text x="1628.94" y="1523.88" font-size="111.93" textLength="248.23" lengthAdjust="spacingAndGlyphs">6000</text>
<text x="1909.09" y="1523.87" font-size="112.99" textLength="249.90" lengthAdjust="spacingAndGlyphs">7000</text>
<text x="417.09" y="1648.50" font-size="142.15" textLength="591.42" lengthAdjust="spacingAndGlyphs">Magnetic</text>
<text x="1044.99" y="1648.50" font-size="142.15" textLength="275.32" lengthAdjust="spacingAndGlyphs">field</text>
<text x="1359.59" y="1648.50" font-size="142.15" textLength="466.82" lengthAdjust="spacingAndGlyphs">(Gauss)</text>
<text x="130.00" y="1186.62" font-size="144.33" textLength="549.13" lengthAdjust="spacingAndGlyphs" transform="rotate(-90 130.00 1186.62)">Intensity</text>
<text x="130.00" y="599.62" font-size="144.33" textLength="288.33" lengthAdjust="spacingAndGlyphs" transform="rotate(-90 130.00 599.62)">(a.u)</text>
</g>
</svg>
</body></html>
